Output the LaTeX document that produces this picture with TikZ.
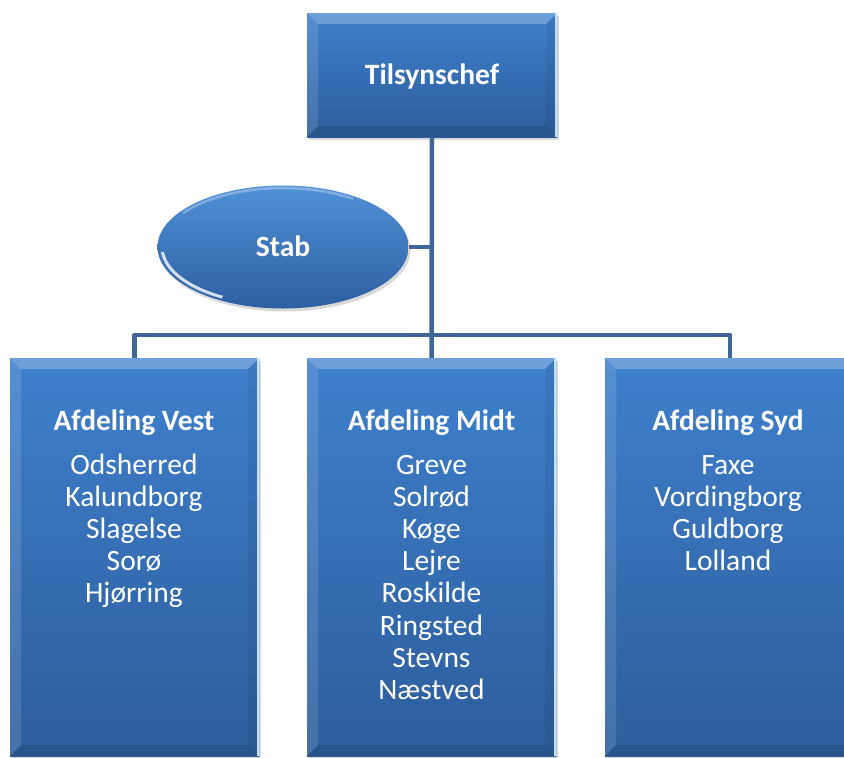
\documentclass[tikz,border=0pt]{standalone}
\usepackage{fontspec}
\setmainfont{Carlito}
\usetikzlibrary{shadows,shapes.geometric}
\definecolor{boxtop}{RGB}{62,128,205}
\definecolor{boxbot}{RGB}{45,93,155}
\definecolor{conncol}{RGB}{62,102,152}
\definecolor{rimcol}{RGB}{190,225,255}
\tikzset{
  conn/.style={draw=conncol, line width=4.5pt, line join=round},
  bevelbox/.style={rectangle, inner sep=0, draw=none,
    top color=boxtop, bottom color=boxbot,
    drop shadow={opacity=0.3, shadow xshift=2pt, shadow yshift=-3pt},
    path picture={
      \fill[white,opacity=.25] (path picture bounding box.north west) -- (path picture bounding box.north east)
        -- ([shift={(-11pt,-11pt)}]path picture bounding box.north east) -- ([shift={(11pt,-11pt)}]path picture bounding box.north west) -- cycle;
      \fill[white,opacity=.12] (path picture bounding box.north west) -- ([shift={(11pt,-11pt)}]path picture bounding box.north west)
        -- ([shift={(11pt,11pt)}]path picture bounding box.south west) -- (path picture bounding box.south west) -- cycle;
      \fill[black,opacity=.10] (path picture bounding box.south west) -- ([shift={(11pt,11pt)}]path picture bounding box.south west)
        -- ([shift={(-11pt,11pt)}]path picture bounding box.south east) -- (path picture bounding box.south east) -- cycle;
      \fill[black,opacity=.06] (path picture bounding box.north east) -- ([shift={(-11pt,-11pt)}]path picture bounding box.north east)
        -- ([shift={(-11pt,11pt)}]path picture bounding box.south east) -- (path picture bounding box.south east) -- cycle;
      \draw[rimcol, line width=2pt] ([xshift=-1.5pt]path picture bounding box.north east) -- ([xshift=-1.5pt]path picture bounding box.south east);
    }},
  ovalbox/.style={ellipse, inner sep=0, draw=none,
    top color={rgb,255:red,80;green,145;blue,215}, bottom color={rgb,255:red,45;green,95;blue,160},
    drop shadow={opacity=0.3, shadow xshift=2pt, shadow yshift=-3pt},
    path picture={
      \draw[white, opacity=.8, line width=3pt] (path picture bounding box.center) ++(185:121pt and 58pt)
        arc[start angle=185, end angle=240, x radius=121pt, y radius=58pt];
      \draw[white, opacity=.3, line width=2.5pt] (path picture bounding box.center) ++(55:122pt and 59pt)
        arc[start angle=55, end angle=145, x radius=122pt, y radius=59pt];
    }},
  txt/.style={text=white, font=\fontsize{29.5}{32.3}\selectfont, anchor=base, inner sep=0},
  head/.style={text=white, font=\bfseries\fontsize{29.5}{32.3}\selectfont, anchor=base, inner sep=0},
}
\begin{document}
\begin{tikzpicture}[x=1pt,y=-1pt]
\useasboundingbox (0,0) rectangle (844,758);
\clip (0,0) rectangle (844,758);
\fill[white] (0,0) rectangle (844,758);

% boxes
\node[bevelbox, minimum width=250pt, minimum height=124pt] (chef) at (432,75) {};
\node[ovalbox, minimum width=251pt, minimum height=123pt] (stab) at (283,247) {};
\node[bevelbox, minimum width=249pt, minimum height=398pt] (vest) at (134.5,557) {};
\node[bevelbox, minimum width=249pt, minimum height=398pt] (midt) at (431.5,557) {};
\node[bevelbox, minimum width=250pt, minimum height=398pt] (syd) at (730,557) {};

% connectors
\coordinate (bar) at (431.5,335);
\draw[conn] (chef.south) -- (midt.north);
\draw[conn] (vest.north) |- (bar) -| (syd.north);
\draw[conn] (stab.east) -- (stab.east -| chef.south);

% texts
\node[head] (tchef) at (432,84) {Tilsynschef};
\node[head] (tstab) at (283,256) {Stab};
\node[head] (hvest) at (134,430) {Afdeling Vest};
\node[head] (hmidt) at (431.5,430) {Afdeling Midt};
\node[head] (hsyd) at (728,430) {Afdeling Syd};

\foreach \t [count=\i] in {Odsherred,Kalundborg,Slagelse,Sorø,Hjørring}
  \node[txt] (v\i) at (134,474+32.2*\i-32.2) {\t};
\foreach \t [count=\i] in {Greve,Solrød,Køge,Lejre,Roskilde,Ringsted,Stevns,Næstved}
  \node[txt] (m\i) at (431.5,474+32.2*\i-32.2) {\t};
\foreach \t [count=\i] in {Faxe,Vordingborg,Guldborg,Lolland}
  \node[txt] (s\i) at (728,474+32.2*\i-32.2) {\t};
\end{tikzpicture}
\end{document}
